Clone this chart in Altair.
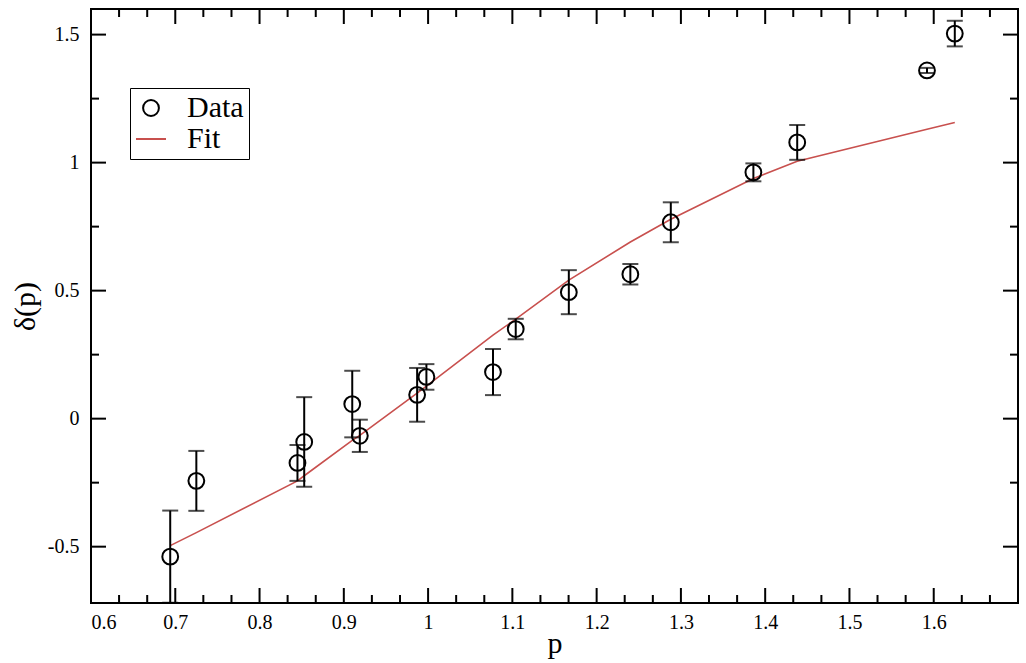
import altair as alt
import pandas as pd

# Measured points with symmetric uncertainties
p_vals = [0.694, 0.725, 0.845, 0.853, 0.910, 0.919, 0.987, 0.998, 1.077,
          1.104, 1.167, 1.240, 1.288, 1.386, 1.438, 1.592, 1.625]
delta_vals = [-0.539, -0.243, -0.173, -0.091, 0.057, -0.067, 0.093, 0.163, 0.182,
              0.350, 0.494, 0.564, 0.767, 0.962, 1.079, 1.360, 1.504]
delta_err = [0.180, 0.117, 0.070, 0.175, 0.130, 0.063, 0.105, 0.050, 0.090,
             0.040, 0.086, 0.040, 0.078, 0.035, 0.068, 0.010, 0.050]

# Fit curve evaluated at the same momenta
fit_vals = [-0.496, -0.445, -0.243, -0.223, -0.085, -0.065, 0.100, 0.127, 0.326,
            0.389, 0.541, 0.690, 0.779, 0.938, 1.005, 1.130, 1.157]

# Axis tick positions
x_major = [0.6, 0.7, 0.8, 0.9, 1, 1.1, 1.2, 1.3, 1.4, 1.5, 1.6]
y_major = [-0.5, 0, 0.5, 1, 1.5]
y_minor = [-0.25, 0.25, 0.75, 1.25]

W, H = 927, 594
FONT = "Liberation Serif"
RED = "#c8504e"

x_minor = []
for a in x_major + [1.7]:
    for k in (1, 2):
        v = round(a + k / 30, 4)
        if v < 1.7:
            x_minor.append(v)

data = pd.DataFrame({
    "p": p_vals,
    "delta": delta_vals,
    "lo": [d - e for d, e in zip(delta_vals, delta_err)],
    "hi": [d + e for d, e in zip(delta_vals, delta_err)],
    "fit": fit_vals,
    "series": ["Data"] * len(p_vals),
})

xs = alt.Scale(domain=[0.6, 1.7], nice=False, zero=False)
ys = alt.Scale(domain=[-0.72, 1.6], nice=False, zero=False)
lbl = "'' + datum.value"

x_axis = alt.Axis(values=x_major, labelExpr=lbl, tickSize=0, domain=False, grid=False,
                  labelFont=FONT, labelFontSize=20, labelColor="black", labelPadding=9,
                  title="p", titleFont=FONT, titleFontSize=30, titleFontWeight="normal",
                  titleColor="black", titlePadding=-4)
y_axis = alt.Axis(values=y_major, labelExpr=lbl, tickSize=0, domain=False, grid=False,
                  labelFont=FONT, labelFontSize=20, labelColor="black", labelPadding=12,
                  title="δ(p)", titleFont=FONT, titleFontSize=30, titleFontWeight="normal",
                  titleColor="black", titlePadding=7)

base = alt.Chart(data)

fit_line = base.mark_line(color=RED, strokeWidth=1.6).encode(
    x=alt.X("p:Q", scale=xs, axis=x_axis),
    y=alt.Y("fit:Q", scale=ys, axis=y_axis),
)

err_rule = base.mark_rule(color="black", strokeWidth=2, clip=True).encode(
    x=alt.X("p:Q", scale=xs),
    y=alt.Y("lo:Q", scale=ys),
    y2="hi:Q",
)
cap_lo = base.mark_tick(color="black", orient="horizontal", size=16, thickness=2).encode(
    x=alt.X("p:Q", scale=xs), y=alt.Y("lo:Q", scale=ys))
cap_hi = base.mark_tick(color="black", orient="horizontal", size=16, thickness=2).encode(
    x=alt.X("p:Q", scale=xs), y=alt.Y("hi:Q", scale=ys))

legend = alt.Legend(title=None, orient="none", legendX=39, legendY=79,
                    strokeColor="black", fillColor="white", padding=5,
                    labelFont=FONT, labelFontSize=30, labelColor="black",
                    symbolStrokeWidth=2, labelOffset=20, rowPadding=0)
dom = ["Data", "Fit"]
points = base.mark_point(filled=False, strokeWidth=2, opacity=1).encode(
    x=alt.X("p:Q", scale=xs),
    y=alt.Y("delta:Q", scale=ys),
    color=alt.Color("series:N", scale=alt.Scale(domain=dom, range=["black", RED]), legend=legend),
    shape=alt.Shape("series:N", scale=alt.Scale(domain=dom, range=["circle", "stroke"]), legend=legend),
    size=alt.Size("series:N", scale=alt.Scale(domain=dom, range=[250, 900]), legend=legend),
)

# Inward-pointing ticks on all four sides of the frame
def xticks(vals, length):
    df = pd.DataFrame({"v": vals})
    bot = alt.Chart(df).mark_rule(color="black", strokeWidth=2).encode(
        x=alt.X("v:Q", scale=xs), y=alt.value(H), y2=alt.value(H - length))
    top = alt.Chart(df).mark_rule(color="black", strokeWidth=2).encode(
        x=alt.X("v:Q", scale=xs), y=alt.value(0), y2=alt.value(length))
    return [bot, top]

def yticks(vals, length):
    df = pd.DataFrame({"v": vals})
    left = alt.Chart(df).mark_rule(color="black", strokeWidth=2).encode(
        y=alt.Y("v:Q", scale=ys), x=alt.value(0), x2=alt.value(length))
    right = alt.Chart(df).mark_rule(color="black", strokeWidth=2).encode(
        y=alt.Y("v:Q", scale=ys), x=alt.value(W), x2=alt.value(W - length))
    return [left, right]

tick_layers = xticks(x_major[1:], 15) + xticks(x_minor, 8) + yticks(y_major, 15) + yticks(y_minor, 8)

chart = alt.layer(fit_line, err_rule, cap_lo, cap_hi, points, *tick_layers).properties(
    width=W, height=H,
    autosize=alt.AutoSizeParams(type="none"),
    padding={"left": 91, "top": 9, "right": 8, "bottom": 60},
    background="white",
).configure_view(stroke="black", strokeWidth=2)

chart.save("out.html", embed_options={"renderer": "svg", "actions": False})
